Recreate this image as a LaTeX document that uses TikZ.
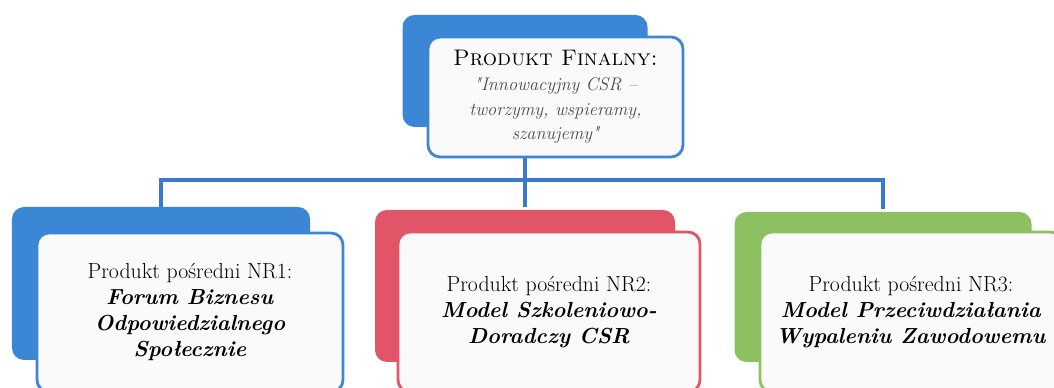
\documentclass[tikz,border=0pt]{standalone}
\usepackage{xcolor}
\definecolor{csrblue}{RGB}{60,134,214}
\definecolor{csrred}{RGB}{226,84,104}
\definecolor{csrgreen}{RGB}{141,192,96}
\definecolor{csrline}{RGB}{58,122,204}
\usetikzlibrary{calc}

\begin{document}
\begin{tikzpicture}[
  back/.style={rounded corners=0.3cm,inner sep=0pt},
  front/.style={draw,line width=2pt,fill=black!2,rounded corners=0.3cm,align=center,inner sep=0pt,font=\fontsize{15.5}{18.5}\selectfont},
  link/.style={draw=csrline,line width=2.2pt,shorten >=2pt}]
  \useasboundingbox (0,0) rectangle (26.35,9.7);
  \clip (0,0) rectangle (26.35,9.7);
  % coloured cards behind the boxes
  \node[back,fill=csrblue,minimum width=6.125cm,minimum height=2.8cm] (finb) at (13.125,7.925) {};
  \node[back,fill=csrblue,minimum width=7.45cm,minimum height=3.825cm] (b1) at (4.025,2.6125) {};
  \node[back,fill=csrred,minimum width=7.5cm,minimum height=3.8cm] (b2) at (13.125,2.55) {};
  \node[back,fill=csrgreen,minimum width=7.425cm,minimum height=3.75cm] (b3) at (22.075,2.525) {};
  % tree lines
  \coordinate (bus) at (0,5.2);
  \draw[link] (finb.south) -- (b2.north);
  \draw[link] (b1.north) |- (b3.north |- bus) -- (b3.north);
  % front boxes
  \node[front,draw=csrblue,minimum width=6.375cm,minimum height=3cm,font=\fontsize{13}{17.5}\selectfont] (fin) at (13.8875,7.275)
    {{\fontsize{16}{18}\selectfont\textsc{Produkt Finalny:}}\\
     {\itshape\color{black!70}\textquotedbl Innowacyjny CSR \textendash}\\
     {\itshape\color{black!70}tworzymy, wspieramy,}\\
     {\itshape\color{black!70}szanujemy\textquotedbl}};
  \node[front,draw=csrblue,minimum width=7.65cm,minimum height=3.975cm] (p1) at (4.75,1.8875)
    {Produkt pośredni NR1:\\ \textbf{\textit{Forum Biznesu}}\\ \textbf{\textit{Odpowiedzialnego}}\\ \textbf{\textit{Społecznie}}};
  \node[front,draw=csrred,minimum width=7.55cm,minimum height=4cm] (p2) at (13.725,1.9)
    {Produkt pośredni NR2:\\ \textbf{\textit{Model Szkoleniowo-}}\\ \textbf{\textit{Doradczy CSR}}};
  \node[front,draw=csrgreen,minimum width=7.55cm,minimum height=4cm] (p3) at (22.775,1.9)
    {Produkt pośredni NR3:\\ \textbf{\textit{Model Przeciwdziałania}}\\ \textbf{\textit{Wypaleniu Zawodowemu}}};
\end{tikzpicture}
\end{document}
